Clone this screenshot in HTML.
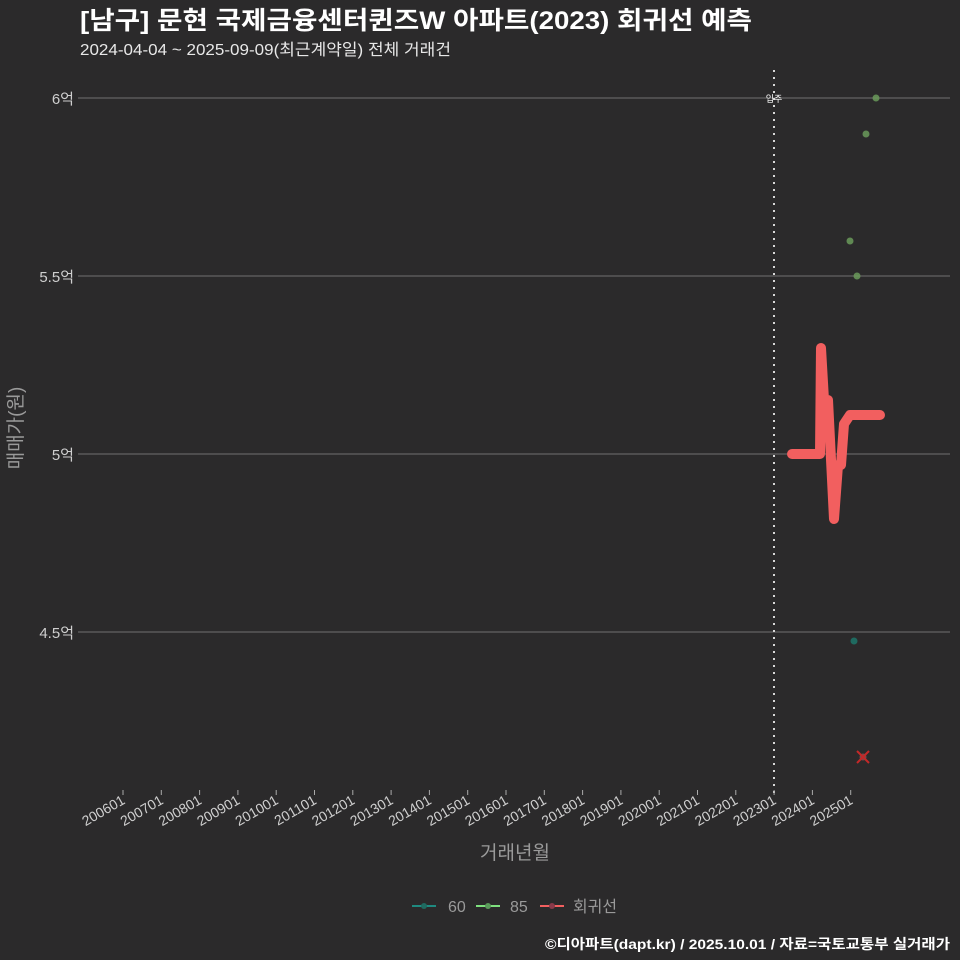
<!DOCTYPE html>
<html><head><meta charset="utf-8"><style>
html,body{margin:0;padding:0;background:#2b2a2b;}
svg{display:block;font-family:"Liberation Sans","Noto Sans CJK KR",sans-serif;}
</style></head><body>
<svg width="960" height="960" viewBox="0 0 960 960" xmlns="http://www.w3.org/2000/svg">
<rect width="960" height="960" fill="#2b2a2b"/>
<text x="80" y="29" fill="#ffffff" font-size="25" font-weight="bold" textLength="672" lengthAdjust="spacingAndGlyphs">[남구] 문현 국제금융센터퀸즈W 아파트(2023) 회귀선 예측</text>
<text x="80" y="55" fill="#e8e8e8" font-size="16" textLength="371" lengthAdjust="spacingAndGlyphs">2024-04-04 ~ 2025-09-09(최근계약일) 전체 거래건</text>
<g stroke="#707070" stroke-width="1">
<line x1="78" y1="98" x2="950" y2="98"/>
<line x1="78" y1="276" x2="950" y2="276"/>
<line x1="78" y1="454" x2="950" y2="454"/>
<line x1="78" y1="632" x2="950" y2="632"/>
</g>
<g fill="#cfcfcf" font-size="15" text-anchor="end">
<text x="74" y="104">6억</text>
<text x="74" y="282">5.5억</text>
<text x="74" y="460">5억</text>
<text x="74" y="638">4.5억</text>
</g>
<text transform="translate(22,428) rotate(-90)" fill="#9a9a9a" font-size="19" text-anchor="middle">매매가(원)</text>
<line x1="774" y1="70" x2="774" y2="795" stroke="#d8d8d8" stroke-width="2" stroke-dasharray="2,5"/>
<text x="774" y="102" fill="#ffffff" font-size="9" text-anchor="middle">입주</text>
<g id="ticks" stroke="#aaaaaa" stroke-width="1"></g>
<g id="labels" fill="#cfcfcf" font-size="14" text-anchor="end"></g>
<text x="515" y="859" fill="#9a9a9a" font-size="19" text-anchor="middle">거래년월</text>
<g fill="#6a9a5a" opacity="0.85">
<circle cx="876" cy="98" r="3.5"/>
<circle cx="866" cy="134" r="3.5"/>
<circle cx="850" cy="241" r="3.5"/>
<circle cx="857" cy="276" r="3.5"/>
</g>
<circle cx="854" cy="641" r="3.5" fill="#1f6a60"/>
<circle cx="863" cy="757" r="3.5" fill="#7a4a4a"/>
<g stroke="#c42828" stroke-width="2"><line x1="857" y1="751" x2="869" y2="763"/><line x1="869" y1="751" x2="857" y2="763"/></g>
<path d="M792,454 L820,454 L821,348 L824,400 L828,400 L834,519 L838,465 L841,465 L844,424 L850,415 L880,415" fill="none" stroke="#f25f5f" stroke-width="10" stroke-linecap="round" stroke-linejoin="round"/>
<g stroke-width="2">
<line x1="412" y1="906" x2="436" y2="906" stroke="#1f8a80"/><circle cx="424" cy="906" r="3" fill="#1f6a60"/>
<line x1="476" y1="906" x2="500" y2="906" stroke="#7ee07e"/><circle cx="488" cy="906" r="3" fill="#5a9a5a"/>
<line x1="540" y1="906" x2="564" y2="906" stroke="#f25f5f"/><circle cx="552" cy="906" r="3" fill="#8a3a4a"/>
</g>
<g fill="#9a9a9a" font-size="16">
<text x="448" y="912">60</text>
<text x="510" y="912">85</text>
<text x="573" y="912" textLength="44" lengthAdjust="spacingAndGlyphs">회귀선</text>
</g>
<text x="950" y="949" fill="#ffffff" font-size="14" font-weight="bold" text-anchor="end" textLength="405" lengthAdjust="spacingAndGlyphs">©디아파트(dapt.kr) / 2025.10.01 / 자료=국토교통부 실거래가</text>
<script>
var t=document.getElementById('ticks'),l=document.getElementById('labels'),ns="http://www.w3.org/2000/svg";
for(var i=0;i<20;i++){var x=123+i*38.3;var y=2006+i;
var ln=document.createElementNS(ns,'line');ln.setAttribute('x1',x);ln.setAttribute('x2',x);ln.setAttribute('y1',790);ln.setAttribute('y2',795);t.appendChild(ln);
var tx=document.createElementNS(ns,'text');tx.setAttribute('transform','translate('+(x+3)+',803) rotate(-30)');tx.textContent=y+'01';l.appendChild(tx);}
</script>
</svg>
</body></html>
